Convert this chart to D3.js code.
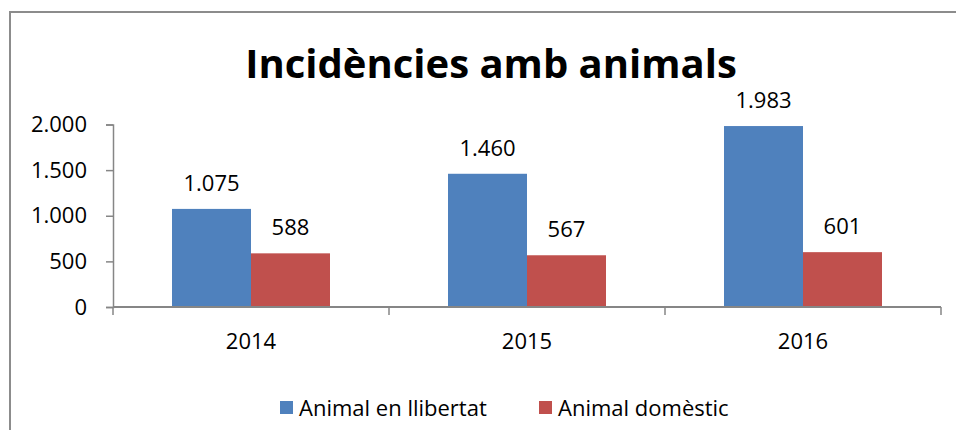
<!DOCTYPE html>
<html>
<head>
<meta charset="utf-8">
<script src="https://cdn.jsdelivr.net/npm/d3@7"></script>
<style>
  body { margin: 0; background: #fff; }
  text { font-family: "Open Sans", sans-serif; fill: #000; }
</style>
</head>
<body>
<svg id="chart" width="956" height="430"></svg>
<script>
const years = ["2014", "2015", "2016"];
const seriesNames = ["Animal en llibertat", "Animal domèstic"];
const llibertat = [1075, 1460, 1983];
const domestic = [588, 567, 601];
const yTicks = [0, 500, 1000, 1500, 2000];
const colors = ["#4f81bd", "#c0504d"];

const svg = d3.select("#chart");
const axisColor = "#868686";

const fmt = d3.formatLocale({
  decimal: ",",
  thousands: ".",
  grouping: [3],
  currency: ["", " €"],
}).format(",d");

// outer frame (right and bottom edges fall outside the picture)
svg
  .append("rect")
  .attr("x", 10)
  .attr("y", 12)
  .attr("width", 980)
  .attr("height", 460)
  .attr("fill", "none")
  .attr("stroke", "#8c8c8c")
  .attr("stroke-width", 2);

svg
  .append("text")
  .attr("x", 491)
  .attr("y", 78)
  .attr("text-anchor", "middle")
  .style("font-size", "40px")
  .style("font-weight", "bold")
  .text("Incidències amb animals");

const x0 = d3.scaleBand().domain(years).range([113, 941]).padding(0);
const x1 = d3
  .scaleBand()
  .domain(seriesNames)
  .range([0, x0.bandwidth()])
  .paddingInner(0)
  .paddingOuter(0.747);
const y = d3.scaleLinear().domain([0, 2000]).range([307, 124.5]);

// y axis
const yAxis = svg
  .append("g")
  .attr("transform", "translate(113,0)")
  .call(d3.axisLeft(y).tickValues(yTicks).tickFormat(fmt).tickSize(7).tickPadding(19));
yAxis.select(".domain").attr("stroke", axisColor).attr("stroke-width", 1.5);
yAxis.selectAll(".tick line").attr("stroke", axisColor).attr("stroke-width", 1.5);
yAxis.selectAll("text").style("font-size", "22px").attr("fill", "#000");

const table = years.map((yr, i) => ({
  year: yr,
  values: [
    { name: seriesNames[0], value: llibertat[i] },
    { name: seriesNames[1], value: domestic[i] },
  ],
}));

const groups = svg
  .selectAll("g.year")
  .data(table)
  .enter()
  .append("g")
  .attr("class", "year")
  .attr("transform", (d) => `translate(${x0(d.year)},0)`);

groups
  .selectAll("rect")
  .data((d) => d.values)
  .enter()
  .append("rect")
  .attr("x", (d) => x1(d.name))
  .attr("y", (d) => y(d.value))
  .attr("width", x1.bandwidth())
  .attr("height", (d) => y(0) - y(d.value))
  .attr("fill", (d, i) => colors[i]);

groups
  .selectAll("text.val")
  .data((d) => d.values)
  .enter()
  .append("text")
  .attr("class", "val")
  .attr("x", (d) => x1(d.name) + x1.bandwidth() / 2)
  .attr("y", (d) => y(d.value) - 18)
  .attr("text-anchor", "middle")
  .style("font-size", "22px")
  .text((d) => fmt(d.value));

// x axis with boundary ticks
const xAxisG = svg.append("g");
xAxisG
  .append("line")
  .attr("x1", x0.range()[0])
  .attr("x2", x0.range()[1])
  .attr("y1", y(0))
  .attr("y2", y(0))
  .attr("stroke", axisColor)
  .attr("stroke-width", 2);
const bounds = years.map((d) => x0(d)).concat([x0.range()[1]]);
xAxisG
  .selectAll("line.tk")
  .data(bounds)
  .enter()
  .append("line")
  .attr("class", "tk")
  .attr("x1", (d) => d)
  .attr("x2", (d) => d)
  .attr("y1", y(0))
  .attr("y2", y(0) + 8)
  .attr("stroke", axisColor)
  .attr("stroke-width", 1.5);
xAxisG
  .selectAll("text")
  .data(years)
  .enter()
  .append("text")
  .attr("x", (d) => x0(d) + x0.bandwidth() / 2)
  .attr("y", 349)
  .attr("text-anchor", "middle")
  .style("font-size", "22px")
  .text((d) => d);

// legend
const legendX = [280, 539];
const legend = svg
  .selectAll("g.legend")
  .data(seriesNames)
  .enter()
  .append("g")
  .attr("class", "legend")
  .attr("transform", (d, i) => `translate(${legendX[i]},401)`);
legend
  .append("rect")
  .attr("width", 13)
  .attr("height", 13)
  .attr("fill", (d, i) => colors[i]);
legend
  .append("text")
  .attr("x", 19)
  .attr("y", 15)
  .style("font-size", "22px")
  .text((d) => d);
</script>
</body>
</html>
